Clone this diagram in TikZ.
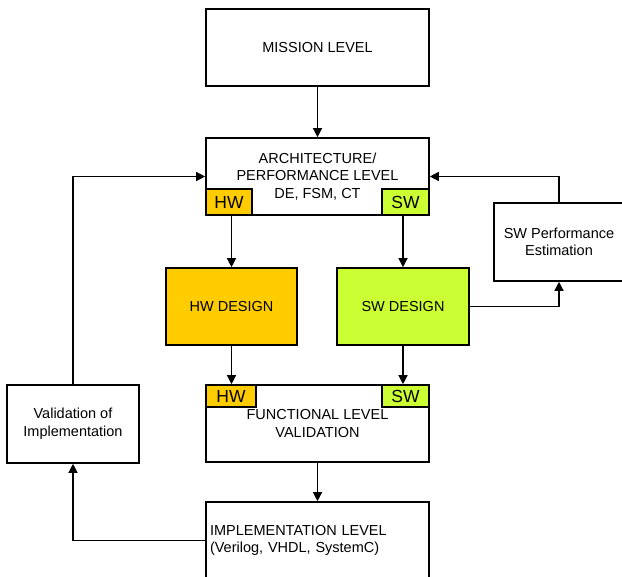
\documentclass[tikz,border=0pt]{standalone}
\usepackage{fontspec}
\setmainfont{Liberation Sans}
\usetikzlibrary{arrows.meta}

\definecolor{hwcol}{HTML}{FFCC00}
\definecolor{swcol}{HTML}{CCFF33}

\tikzset{
  blk/.style={draw, line width=1.6pt, minimum width=223pt, minimum height=77pt,
    align=center, inner sep=2pt, font=\fontsize{14.5}{17.5}\selectfont},
  tag/.style={draw, line width=1.6pt, inner sep=0pt, font=\fontsize{17.5}{20}\selectfont},
  arr/.style={-{Triangle[length=9pt,width=9pt]}, line width=1.3pt},
}

\begin{document}
\begin{tikzpicture}[x=1pt, y=-1pt]

    \clip (0,0) rectangle (622,577);

    \node[blk] (mission) at (317.5,47.5) {MISSION LEVEL};
    \node[blk] (arch) at (317.5,176.5) {ARCHITECTURE/\\PERFORMANCE LEVEL\\DE, FSM, CT};
    \node[tag, fill=hwcol, minimum width=46pt, minimum height=26pt, anchor=south west] (archhw) at (arch.south west) {HW};
    \node[tag, fill=swcol, minimum width=47pt, minimum height=26pt, anchor=south east] (archsw) at (arch.south east) {SW};

    \node[blk, fill=hwcol, minimum width=131pt] (hwd) at (231.5,306.5) {HW DESIGN};
    \node[blk, fill=swcol, minimum width=132pt] (swd) at (403,306.5) {SW DESIGN};

    \node[blk] (func) at (317.5,423.5) {FUNCTIONAL LEVEL\\VALIDATION};
    \node[tag, fill=hwcol, minimum width=50pt, minimum height=22pt, anchor=north west] (funchw) at (func.north west) {HW};
    \node[tag, fill=swcol, minimum width=47pt, minimum height=22pt, anchor=north east] (funcsw) at (func.north east) {SW};

    \node[blk, align=left, text width=215pt] (impl) at (317.5,540.5) {IMPLEMENTATION LEVEL\\(Verilog, VHDL, SystemC)};

    \node[blk, minimum width=132pt, minimum height=78pt] (valid) at (73,424) {Validation of\\Implementation};
    \node[blk, minimum width=130pt, minimum height=78pt] (perf) at (559,242) {SW Performance\\Estimation};

    \draw[arr] (mission) -- (arch);
    \draw[arr] (archhw.south -| hwd.north) -- (hwd.north);
    \draw[arr] (archsw.south -| swd.north) -- (swd.north);
    \draw[arr] (hwd.south) -- (hwd.south |- funchw.north);
    \draw[arr] (swd.south) -- (swd.south |- funcsw.north);
    \draw[arr] (func) -- (impl);
    \draw[arr] (impl.west) -| (valid.south);
    \draw[arr] (valid.north) |- (arch.west);
    \draw[arr] (swd.east) -| (perf.south);
    \draw[arr] (perf.north) |- (arch.east);
    \end{tikzpicture}
\end{document}
